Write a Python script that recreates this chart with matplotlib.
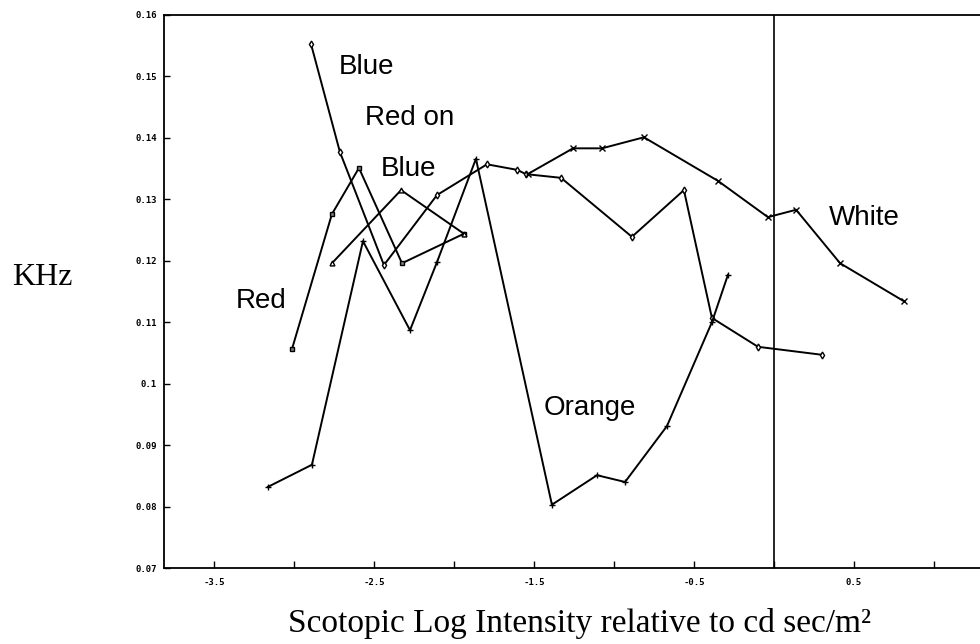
import numpy as np
import matplotlib.pyplot as plt
import matplotlib

matplotlib.rcParams.update({'font.size': 13, 'lines.linewidth': 1.4})

# data (log intensity, KHz)
blue_x = [-2.894, -2.713, -2.438, -2.106, -1.794, -1.606, -1.55, -1.331, -0.888, -0.563, -0.388, -0.1, 0.3]
blue_y = [0.1553, 0.1377, 0.1193, 0.1307, 0.1357, 0.1348, 0.1341, 0.1335, 0.1239, 0.1315, 0.1107, 0.1060, 0.1047]

red_x = [-3.013, -2.763, -2.594, -2.325, -1.938]
red_y = [0.1056, 0.1276, 0.1351, 0.1196, 0.1244]

redonblue_x = [-2.763, -2.331, -1.938]
redonblue_y = [0.1196, 0.1315, 0.1244]

orange_x = [-3.163, -2.888, -2.569, -2.275, -2.106, -1.863, -1.388, -1.106, -0.931, -0.669, -0.388, -0.288]
orange_y = [0.0832, 0.0868, 0.1232, 0.1087, 0.1198, 0.1366, 0.0803, 0.0851, 0.0840, 0.0931, 0.1100, 0.1177]

white_x = [-1.54, -1.256, -1.075, -0.813, -0.35, -0.038, 0.138, 0.413, 0.813]
white_y = [0.1341, 0.1383, 0.1383, 0.1401, 0.1330, 0.1271, 0.1283, 0.1196, 0.1134]

xticks = [-3.5, -3.0, -2.5, -2.0, -1.5, -1.0, -0.5, 0.0, 0.5, 1.0]
xticklabels = ['-3.5', '', '-2.5', '', '-1.5', '', '-0.5', '', '0.5', '']
yticks = [0.07, 0.08, 0.09, 0.10, 0.11, 0.12, 0.13, 0.14, 0.15, 0.16]
yticklabels = ['0.07', '0.08', '0.09', '0.1', '0.11', '0.12', '0.13', '0.14', '0.15', '0.16']

labels = [('Blue', -2.55, 0.1515), ('Red on', -2.275, 0.1432), ('Blue', -2.284, 0.1349),
          ('Red', -3.206, 0.1134), ('Orange', -1.15, 0.0960), ('White', 0.5625, 0.1269)]

fig = plt.figure(figsize=(9.8, 6.44), dpi=100)
ax = fig.add_axes([164/980, 1 - 568/644, 1 - 164/980, 553/644])

ax.plot(blue_x, blue_y, 'k-', marker='d', ms=3.5, mfc='white', mew=1)
ax.plot(red_x, red_y, 'k-', marker='s', ms=3.5, mfc='0.5', mew=1)
ax.plot(redonblue_x, redonblue_y, 'k-', marker='^', ms=3.5, mfc='white', mew=1)
ax.plot(orange_x, orange_y, 'k-', marker='+', ms=5, mew=1)
ax.plot(white_x, white_y, 'k-', marker='x', ms=5, mew=1)
ax.axvline(0, color='k', lw=1.2)

for txt, x, y in labels:
    ax.text(x, y, txt, fontsize=20, family='Liberation Sans', ha='center', va='center')

ax.set_xlim(-3.8125, 1.2875)
ax.set_ylim(0.07, 0.16)
ax.spines['right'].set_visible(False)
for s in ['left', 'top', 'bottom']:
    ax.spines[s].set_linewidth(1.3)

ax.set_xticks(xticks)
ax.set_xticklabels(xticklabels, family='DejaVu Sans Mono', fontsize=6.5, fontweight='bold')
ax.set_yticks(yticks)
ax.set_yticklabels(yticklabels, family='DejaVu Sans Mono', fontsize=6.5, fontweight='bold')
ax.tick_params(axis='x', direction='in', length=5, width=1, pad=7)
ax.tick_params(axis='y', direction='in', length=4, width=1, pad=5)

fig.text(42/980, 1 - 285/644, 'KHz', family='Liberation Serif', fontsize=23, ha='center', va='baseline')
fig.text(579/980, 1 - 632/644, 'Scotopic Log Intensity relative to cd sec/m²',
         family='Liberation Serif', fontsize=24, ha='center', va='baseline')

fig.savefig('out.png', dpi=100)
